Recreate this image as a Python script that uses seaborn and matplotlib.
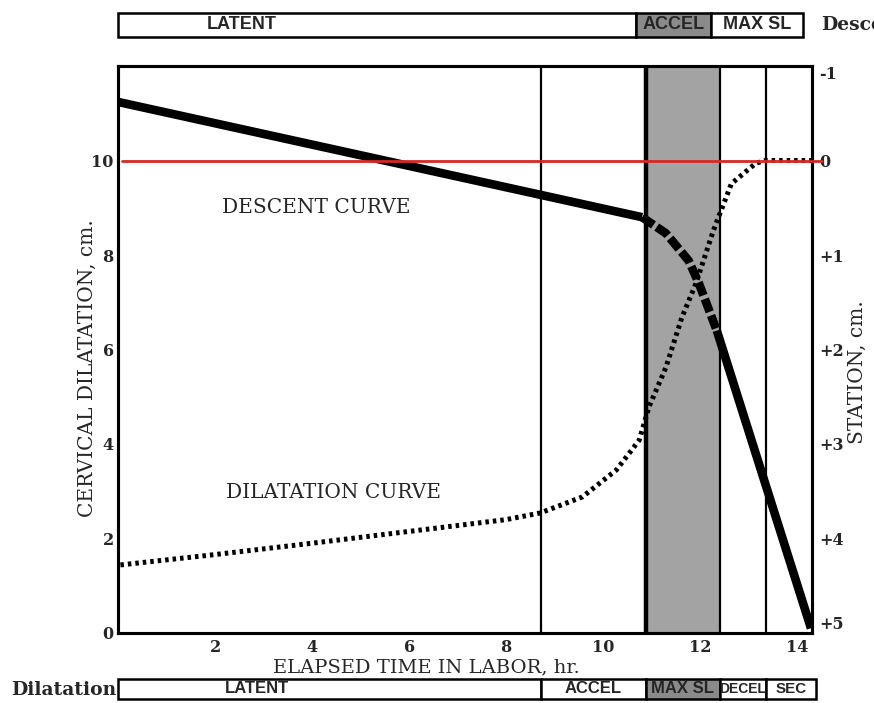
import numpy as np
import pandas as pd
import matplotlib.pyplot as plt
import seaborn as sns

# dilatation curve (hours, cm)
dil_hr = [0.05, 2.0, 4.0, 6.0, 8.0, 8.7, 9.57, 10.27, 10.74, 10.94, 11.29, 11.62, 11.91, 12.27, 12.64, 13.14, 13.34, 14.3]
dil_cm = [1.44, 1.66, 1.9, 2.15, 2.4, 2.54, 2.88, 3.45, 4.08, 4.78, 5.62, 6.68, 7.40, 8.52, 9.51, 9.94, 10.0, 10.0]

# descent curve (hours, station cm)
desc_hr = [0.0, 8.59, 10.8, 11.29, 11.76, 11.97, 12.34, 14.28]
desc_station = [-0.62, 0.35, 0.60, 0.77, 1.06, 1.30, 1.80, 4.95]

# phase boundaries
dil_phases = ['LATENT', 'ACCEL', 'MAX SL', 'DECEL', 'SEC']
dil_phase_start = [0.0, 8.72, 10.88, 12.4, 13.35]
dil_phase_end = [8.72, 10.88, 12.4, 13.35, 14.39]

desc_phases = ['LATENT', 'ACCEL', 'MAX SL']
desc_phase_start = [0.0, 10.68, 12.21]
desc_phase_end = [10.68, 12.21, 14.12]

x_ticks = [2, 4, 6, 8, 10, 12, 14]
y_ticks = [0, 2, 4, 6, 8, 10]
station_ticks = [-1, 0, 1, 2, 3, 4, 5]
station_labels = ['-1', '0', '+1', '+2', '+3', '+4', '+5']

sns.set_style('white')
plt.rcParams['font.family'] = ['DejaVu Serif']

fig = plt.figure(figsize=(8.74, 7.03), dpi=100)
ax = fig.add_axes([0.135, 0.0996, 0.794, 0.8065])
XMAX = 14.3
ax.set_xlim(0, XMAX)
ax.set_ylim(0, 12)

# shaded max slope region and phase lines
ax.axvspan(dil_phase_start[2], dil_phase_end[2], color='#a3a3a3', zorder=0, lw=0)
ax.axvline(dil_phase_start[2], color='black', lw=3.2, zorder=1)
ax.axvline(dil_phase_end[2], color='black', lw=1.6, zorder=1)
ax.axvline(dil_phase_start[1], color='black', lw=1.6, zorder=1)
ax.axvline(dil_phase_start[4], color='black', lw=1.6, zorder=1)

sns.lineplot(x=dil_hr, y=dil_cm, ax=ax, color='black', lw=3.6,
             linestyle=(0, (0.7, 0.8)), sort=False, estimator=None)

ax.set_xticks(x_ticks)
ax.set_yticks(y_ticks)
ax.tick_params(length=0, labelsize=11.5, pad=3)
ax.tick_params(axis='x', pad=4)
for lab in ax.get_xticklabels() + ax.get_yticklabels():
    lab.set_fontweight('bold')
for s in ax.spines.values():
    s.set_color('black')
    s.set_linewidth(2.2)

ax.text(4.08, 9.0, 'DESCENT CURVE', ha='center', va='center', fontsize=14.5)
ax.text(4.45, 2.98, 'DILATATION CURVE', ha='center', va='center', fontsize=14.5)

# station axis
ax2 = ax.twinx()
ax2.set_ylim(5, -1)
df = pd.DataFrame({'hr': desc_hr, 'station': desc_station})
solid1 = df.iloc[:3]
dashed = df.iloc[2:7]
solid2 = df.iloc[6:]
sns.lineplot(data=solid1, x='hr', y='station', ax=ax2, color='black', lw=6.2,
             sort=False, estimator=None, solid_capstyle='butt')
sns.lineplot(data=dashed, x='hr', y='station', ax=ax2, color='black', lw=6.2,
             linestyle=(0, (1.6, 0.45)), sort=False, estimator=None)
sns.lineplot(data=solid2, x='hr', y='station', ax=ax2, color='black', lw=6.2,
             sort=False, estimator=None, solid_capstyle='butt')
ax2.axhline(0, color='#d42a1f', lw=2, xmin=0.006, xmax=1.015, clip_on=False, zorder=10)
ax2.set_yticks(station_ticks)
ax2.set_yticklabels(station_labels)
ax2.tick_params(length=0, labelsize=11.5, pad=5)
ylabs = ax2.get_yticklabels()
for lab in ylabs:
    lab.set_fontweight('bold')
ylabs[0].set_va('top')
ylabs[-1].set_va('bottom')
for s in ax2.spines.values():
    s.set_color('black')
    s.set_linewidth(2.2)
ax2.grid(False)
ax.grid(False)

# axis labels (set after all seaborn calls)
ax2.set_xlabel('')
ax2.set_ylabel('STATION, cm.', fontsize=14.5)
ax2.yaxis.set_label_coords(1.052, 0.46)
ax.set_xlabel('ELAPSED TIME IN LABOR, hr.', fontsize=14)
ax.xaxis.set_label_coords(0.444, -0.045)
ax.set_ylabel('CERVICAL DILATATION, cm.', fontsize=14.5)
ax.yaxis.set_label_coords(-0.03, 0.467)

bar_font = ['Liberation Sans Narrow', 'Liberation Sans', 'DejaVu Sans']


def phase_bar(rect, names, starts, ends, shaded, latent_x, fs):
    bx = fig.add_axes(rect)
    bx.set_xlim(0, XMAX)
    bx.set_ylim(-0.5, 0.5)
    widths = [e - s for s, e in zip(starts, ends)]
    colors = ['#8a8a8a' if n == shaded else 'white' for n in names]
    bx.barh(0, widths, left=starts, height=1, color=colors, edgecolor='black',
            lw=1.8, clip_on=False)
    for n, s, e in zip(names, starts, ends):
        xc = latent_x if n == 'LATENT' else (s + e) / 2
        size = min(fs, (e - s) * 10.5)
        bx.text(xc, 0, n, ha='center', va='center', fontsize=size,
                family=bar_font, fontweight='bold', clip_on=False)
    bx.axis('off')
    return bx


top = phase_bar([0.135, 0.947, 0.794, 0.035], desc_phases, desc_phase_start,
                desc_phase_end, 'ACCEL', 2.56, 13)
top.text(14.48, 0, 'Descent', ha='left', va='center', fontsize=13.5,
         fontweight='bold', clip_on=False)
bot = phase_bar([0.135, 0.0057, 0.794, 0.0285], dil_phases, dil_phase_start,
                dil_phase_end, 'MAX SL', 2.87, 12)
bot.text(-0.03, -0.05, 'Dilatation', ha='right', va='center', fontsize=13.5,
         fontweight='bold', clip_on=False)

fig.savefig('out.png', dpi=100)
